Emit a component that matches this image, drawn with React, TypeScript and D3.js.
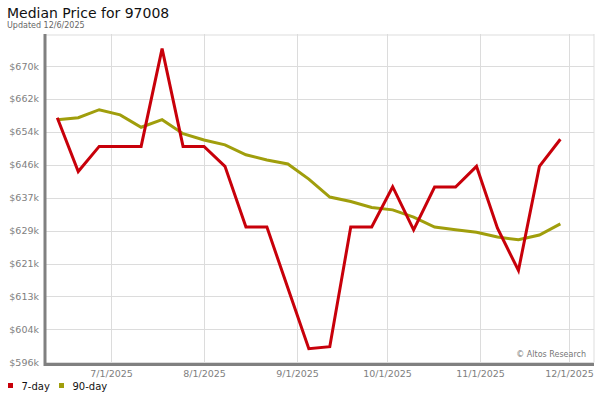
import React from "react";
import * as d3 from "d3";

const dates = [
  "2025-06-13", "2025-06-20", "2025-06-27", "2025-07-04", "2025-07-11",
  "2025-07-18", "2025-07-25", "2025-08-01", "2025-08-08", "2025-08-15",
  "2025-08-22", "2025-08-29", "2025-09-05", "2025-09-12", "2025-09-19",
  "2025-09-26", "2025-10-03", "2025-10-10", "2025-10-17", "2025-10-24",
  "2025-10-31", "2025-11-07", "2025-11-14", "2025-11-21", "2025-11-28",
];
const sevenDay = [
  657.8, 644.3, 650.6, 650.6, 650.6, 675.1, 650.6, 650.6, 645.6, 630.4,
  630.4, 615.1, 599.9, 600.4, 630.4, 630.4, 640.5, 629.7, 640.4, 640.4,
  645.6, 630.1, 619.5, 645.6, 652.4,
];
const ninetyDay = [
  657.3, 657.8, 659.8, 658.5, 655.4, 657.3, 653.8, 652.2, 651.0, 648.5,
  647.2, 646.2, 642.4, 637.9, 636.8, 635.3, 634.7, 632.9, 630.4, 629.7,
  629.1, 627.9, 627.2, 628.4, 631.2,
];
const yTicks = [596.5, 604.75, 613.0, 621.25, 629.5, 637.75, 646.0, 654.25, 662.5, 670.75];
const xTicks = ["2025-07-01", "2025-08-01", "2025-09-01", "2025-10-01", "2025-11-01", "2025-12-01"];
const seriesNames = ["7-day", "90-day"];
const seriesColors = ["#c8000a", "#a09e0c"];

const parse = (s: string) => {
  const [y, m, d] = s.split("-").map(Number);
  return new Date(y, m - 1, d);
};

export default function App() {
  const W = 600, H = 400;
  const left = 45.3, right = 593.3, top = 34, bottom = 362.3;
  const x = d3.scaleTime().domain([new Date(2025, 5, 9), new Date(2025, 11, 9)]).range([left, right]);
  const y = d3.scaleLinear().domain([596.5, 670.75]).range([bottom, 66]);
  const line = d3
    .line<[Date, number]>()
    .x((d) => x(d[0]))
    .y((d) => y(d[1]));
  const series = [sevenDay, ninetyDay].map((vals) => vals.map((v, i) => [parse(dates[i]), v] as [Date, number]));
  const font = "'DejaVu Sans', sans-serif";
  const fmtX = d3.timeFormat("%-m/%-d/%Y");

  return (
    <svg width={W} height={H} style={{ position: "absolute", left: 0, top: 0, background: "#fff" }} fontFamily={font}>
      <text x={7} y={18} fontSize={14} fill="#111">Median Price for 97008</text>
      <text x={7} y={28} fontSize={8} fill="#666">Updated 12/6/2025</text>
      <line x1={46} x2={594} y1={top + 1} y2={top + 1} stroke="#ddd" strokeWidth={1} />
      <line x1={594} x2={594} y1={top} y2={bottom} stroke="#ddd" strokeWidth={1} />
      {yTicks.map((t) => (
        <g key={t}>
          <line x1={46} x2={594} y1={Math.round(y(t)) + 0.5} y2={Math.round(y(t)) + 0.5} stroke="#dcdcdc" strokeWidth={1} />
          <text x={39} y={y(t) + 3.5} fontSize={9.5} fill="#808080" textAnchor="end">
            {"$" + Math.floor(t) + "k"}
          </text>
        </g>
      ))}
      {xTicks.map((t) => {
        const xx = Math.round(x(parse(t))) + 0.5;
        return (
          <g key={t}>
            <line x1={xx} x2={xx} y1={top} y2={bottom + 2} stroke="#dcdcdc" strokeWidth={1} />
            <text x={xx} y={377} fontSize={9.5} fill="#808080" textAnchor="middle">
              {fmtX(parse(t))}
            </text>
          </g>
        );
      })}
      <text x={586} y={357} fontSize={8} fill="#777" textAnchor="end">© Altos Research</text>
      <line x1={45} x2={45} y1={top} y2={366} stroke="#808080" strokeWidth={3} />
      <line x1={44} x2={594} y1={364.5} y2={364.5} stroke="#808080" strokeWidth={3} />
      {[1, 0].map((k) => (
        <path key={k} d={line(series[k]) || ""} fill="none" stroke={seriesColors[k]} strokeWidth={3} strokeLinejoin="miter" />
      ))}
      {seriesNames.map((n, i) => {
        const lx = [8, 59][i];
        return (
          <g key={n}>
            <rect x={lx} y={383} width={5} height={5} fill={seriesColors[i]} />
            <text x={lx + 13.5} y={390} fontSize={10} fill="#111">{n}</text>
          </g>
        );
      })}
    </svg>
  );
}
